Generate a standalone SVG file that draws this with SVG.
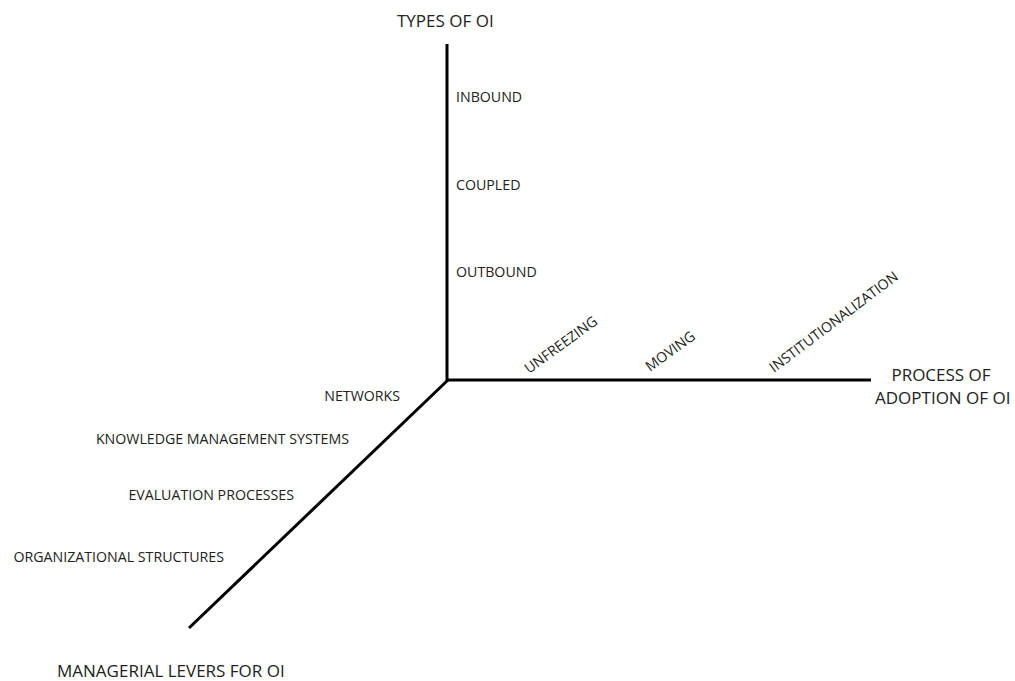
<svg xmlns="http://www.w3.org/2000/svg" width="1015" height="681" viewBox="0 0 1015 681">
<style>
text{font-family:"Open Sans","Noto Sans","DejaVu Sans",sans-serif;fill:#222}
.l{font-size:14.2px}
.t{font-size:17px}
.ax{stroke:#000;stroke-width:3;fill:none}
</style>
<rect width="1015" height="681" fill="#fff"/>
<g id="connectors">
<line class="ax" x1="447" y1="44" x2="447" y2="381"/>
<line class="ax" x1="446" y1="380" x2="871" y2="380"/>
<line class="ax" x1="448" y1="380" x2="189" y2="628"/>
</g>
<g id="types-axis">
<text class="t" x="397" y="27">TYPES OF OI</text>
<text class="l" x="456" y="102">INBOUND</text>
<text class="l" x="456" y="190">COUPLED</text>
<text class="l" x="456" y="277">OUTBOUND</text>
</g>
<g id="process-axis">
<text class="t" x="941" y="381" text-anchor="middle">PROCESS OF</text>
<text class="t" x="875" y="404">ADOPTION OF OI</text>
<text class="l" transform="translate(529,374) rotate(-36)">UNFREEZING</text>
<text class="l" transform="translate(650,372) rotate(-36)">MOVING</text>
<text class="l" transform="translate(774,373) rotate(-37)">INSTITUTIONALIZATION</text>
</g>
<g id="levers-axis">
<text class="l" x="400" y="401" text-anchor="end">NETWORKS</text>
<text class="l" x="349" y="444" text-anchor="end">KNOWLEDGE MANAGEMENT SYSTEMS</text>
<text class="l" x="294" y="500" text-anchor="end">EVALUATION PROCESSES</text>
<text class="l" x="224" y="562" text-anchor="end">ORGANIZATIONAL STRUCTURES</text>
<text class="t" x="57" y="677">MANAGERIAL LEVERS FOR OI</text>
</g>
</svg>
